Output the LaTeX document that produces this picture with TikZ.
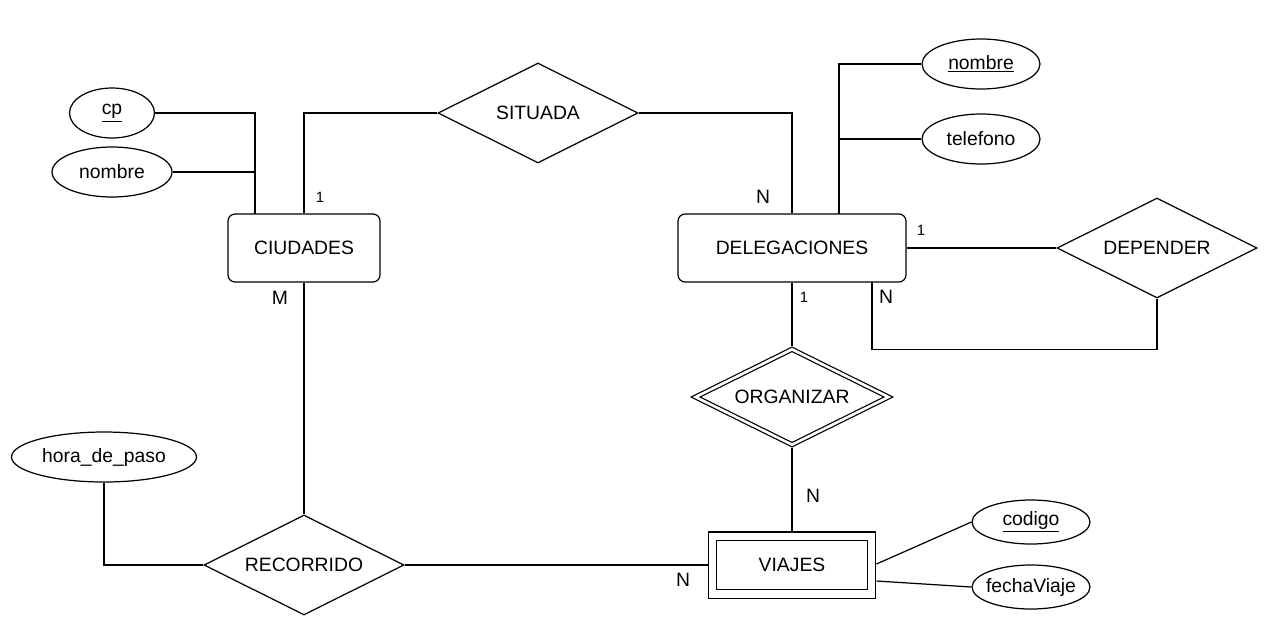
\documentclass[tikz,border=0pt]{standalone}
\usepackage{fontspec}
\setmainfont{Liberation Sans}
\usetikzlibrary{shapes.geometric, positioning, calc}

\begin{document}
\begin{tikzpicture}[
  x=0.02cm, y=-0.02cm,
  font=\fontsize{11}{13}\selectfont,
  line width=0.7pt,
  %--- entities ---
  entity/.style={
    draw, rounded corners=4pt,
    minimum height=1.36cm, inner sep=0pt
  },
  weakent/.style={
    draw, double, double distance=4pt, outer sep=2.7pt,
    minimum width=3.19cm, minimum height=1.16cm
  },
  %--- relations ---
  rel/.style={
    draw, diamond, aspect=2, inner sep=0pt,
    minimum width=4cm, minimum height=2cm
  },
  weakrel/.style={
    rel, double, double distance=1.5pt, outer sep=1.45pt,
    minimum width=3.9cm, minimum height=1.95cm
  },
  %--- attributes and cardinalities ---
  attr/.style={
    draw, ellipse, inner sep=0pt,
    minimum width=2.36cm, minimum height=1cm
  },
  card/.style={inner sep=1pt},
  cardone/.style={inner sep=1pt, font=\fontsize{8.5}{10}\selectfont}
]

\useasboundingbox (0,0) rectangle (1270,633);

%------------------------------------------------------------------
%  Entities and relations
%------------------------------------------------------------------
\node[entity, minimum width=3.04cm] (ciudades)  at (304,248) {CIUDADES};
\node[entity, minimum width=4.56cm] (deleg)     at (792,248) {DELEGACIONES};
\node[weakent]                      (viajes)    at (792,565) {VIAJES};

\node[rel]     (situada)   at (538,113)  {SITUADA};
\node[rel]     (depender)  at (1157,248) {DEPENDER};
\node[weakrel] (organizar) at (792,397)  {ORGANIZAR};
\node[rel]     (recorrido) at (304,565)  {RECORRIDO};

%------------------------------------------------------------------
%  Attributes
%------------------------------------------------------------------
\node[attr, minimum width=1.7cm] (cp)       at (112,113) {\underline{cp}};
\node[attr, minimum width=2.4cm] (cnombre)  at (112,172) {nombre};
\node[attr]                      (dnombre)  at (981,64)  {\underline{nombre}};
\node[attr]                      (telefono) at (981,139) {telefono};
\node[attr, minimum height=0.88cm] (codigo) at (1031,522) {\underline{codigo}};
\node[attr, minimum height=0.88cm, inner xsep=-1.9pt] (fecha) at (1031,587) {fechaViaje};
\node[attr, minimum width=3.7cm] (hora)     at (104,457) {hora\_de\_paso};

%------------------------------------------------------------------
%  Attribute links
%------------------------------------------------------------------
\coordinate (cbus) at (255,214);
\coordinate (dbus) at (839,214);

\draw (cp.east) -| (cbus);
\draw (cnombre.east) -- (cnombre.east -| cbus);
\draw (dnombre.west) -| (dbus);
\draw (telefono.west) -- (telefono.west -| dbus);
\draw (hora.south) |- (recorrido.west);
\draw ($(viajes.east)+(0,-1)$) -- (codigo.west);
\draw ($(viajes.east)+(0,16)$) -- (fecha.west);

%------------------------------------------------------------------
%  Relation links
%------------------------------------------------------------------
\coordinate (dloop) at (872,282);

\draw (ciudades.north) |- (situada.west);
\draw (situada.east) -| (deleg.north);
\draw (deleg.east) -- (depender.west);
\draw (depender.south) -- ++(0,51) -| (dloop);
\draw (deleg.south) -- (organizar.north);
\draw (organizar.south) -- (viajes.north);
\draw (ciudades.south) -- (recorrido.north);
\draw (recorrido.east) -- (viajes.west);

%------------------------------------------------------------------
%  Cardinalities
%------------------------------------------------------------------
\node[cardone] (csit)  at (320,197) {1};
\node[card]    (crec)  at (280,298) {M};
\node[card]    (dsit)  at (763,197) {N};
\node[cardone] (ddep1) at (921,230) {1};
\node[card]    (ddep2) at (886,297) {N};
\node[cardone] (dorg)  at (804,297) {1};
\node[card]    (vorg)  at (813,496) {N};
\node[card]    (vrec)  at (683,580) {N};

\end{tikzpicture}
\end{document}
